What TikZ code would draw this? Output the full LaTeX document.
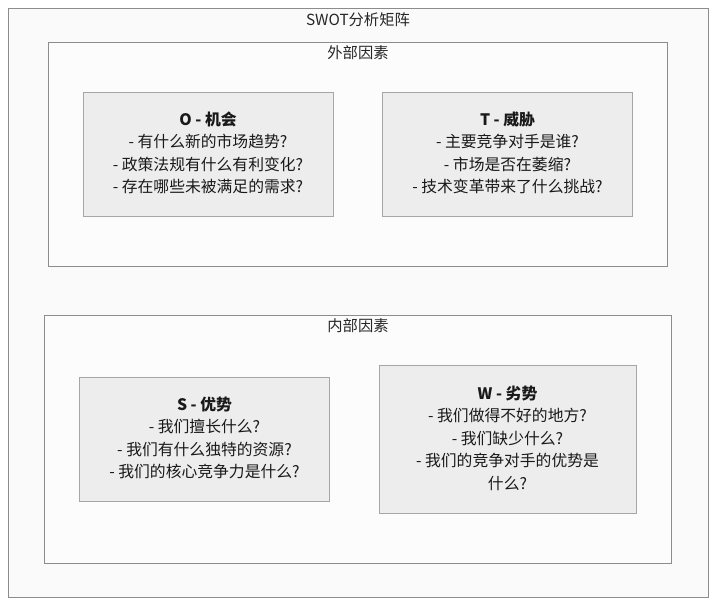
\documentclass[tikz,border=0pt]{standalone}
\usepackage{fontspec}
\setmainfont{Noto Sans CJK SC}
\begin{document}
\begin{tikzpicture}[x=1pt,y=-1pt,
  outerbox/.style={draw=black!45,fill=black!2,line width=0.8pt},
  regionbox/.style={draw=black!45,fill=black!1,line width=0.8pt},
  quadbox/.style={draw=black!35,fill=black!7,line width=0.8pt},
  lbl/.style={font=\fontsize{15.3}{17}\selectfont,text=black!85,inner sep=0pt},
  qtext/.style={font=\fontsize{15.8}{22.5}\selectfont,align=center,text=black!90,inner sep=0pt}]
\useasboundingbox (0,0) rectangle (724,612);
\fill[white] (0,0) rectangle (724,612);
% outer
\draw[outerbox] (8,8) rectangle (708.5,597.5);
\node[lbl] (title) at (358,20) {SWOT分析矩阵};
% external
\draw[regionbox] (48.5,42.5) rectangle (667.5,266);
\node[lbl] (ext) at (358,53) {外部因素};
% internal
\draw[regionbox] (44.5,315.5) rectangle (671,563);
\node[lbl] (int) at (358,326) {内部因素};
% quadrants
\draw[quadbox] (83.5,92.5) rectangle (333,216.5);
\node[qtext] (O) at (208,153) {\textbf{O - 机会}\\- 有什么新的市场趋势?\\- 政策法规有什么有利变化?\\- 存在哪些未被满足的需求?};
\draw[quadbox] (382.5,92.5) rectangle (632.5,216.5);
\node[qtext] (T) at (507.5,153) {\textbf{T - 威胁}\\- 主要竞争对手是谁?\\- 市场是否在萎缩?\\- 技术变革带来了什么挑战?};
\draw[quadbox] (79.5,377.5) rectangle (329.5,501);
\node[qtext] (S) at (204.5,438) {\textbf{S - 优势}\\- 我们擅长什么?\\- 我们有什么独特的资源?\\- 我们的核心竞争力是什么?};
\draw[quadbox] (379,365) rectangle (636.5,513);
\node[qtext] (W) at (507.5,438) {\textbf{W - 劣势}\\- 我们做得不好的地方?\\- 我们缺少什么?\\- 我们的竞争对手的优势是\\什么?};
\end{tikzpicture}
\end{document}
